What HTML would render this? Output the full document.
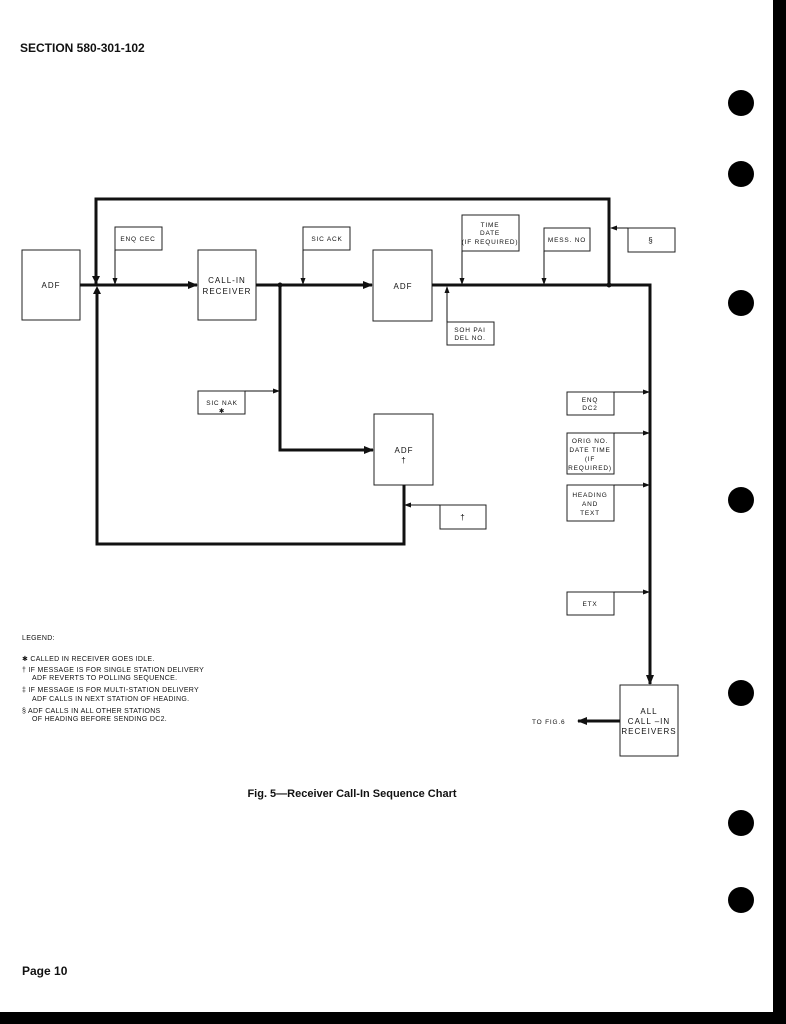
<!DOCTYPE html>
<html><head><meta charset="utf-8"><style>
html,body{margin:0;padding:0;background:#fff;}
svg{display:block;}
text{font-family:"Liberation Sans",sans-serif;fill:#111;}
.s{font-size:6.5px;letter-spacing:0.8px;}
.m{font-size:8px;letter-spacing:1px;}
.lg{font-size:7px;letter-spacing:0.3px;}
.b{font-weight:bold;}
</style></head><body>
<svg width="786" height="1024" viewBox="0 0 786 1024" xmlns="http://www.w3.org/2000/svg">
<defs>
<marker id="a" markerWidth="10" markerHeight="8" refX="9" refY="4" orient="auto" markerUnits="userSpaceOnUse"><path d="M0,0 L10,4 L0,8z" fill="#111"/></marker>
<marker id="t" markerWidth="7" markerHeight="5" refX="6" refY="2.5" orient="auto" markerUnits="userSpaceOnUse"><path d="M0,0 L7,2.5 L0,5z" fill="#111"/></marker>
</defs>
<rect x="773" y="0" width="13" height="1024" fill="#000"/>
<rect x="0" y="1012" width="786" height="12" fill="#000"/>
<g fill="#000">
<circle cx="741" cy="103" r="13"/><circle cx="741" cy="174" r="13"/><circle cx="741" cy="303" r="13"/>
<circle cx="741" cy="500" r="13"/><circle cx="741" cy="693" r="13"/><circle cx="741" cy="823" r="13"/><circle cx="741" cy="900" r="13"/>
</g>
<text x="20" y="52" class="b" style="font-size:12px">SECTION 580-301-102</text>
<text x="22" y="975" class="b" style="font-size:12px">Page 10</text>

<g fill="none" stroke="#222" stroke-width="1">
<rect x="22" y="250" width="58" height="70"/>
<rect x="115" y="227" width="47" height="23"/>
<rect x="198" y="250" width="58" height="70"/>
<rect x="303" y="227" width="47" height="23"/>
<rect x="373" y="250" width="59" height="71"/>
<rect x="198" y="391" width="47" height="23"/>
<rect x="374" y="414" width="59" height="71"/>
<rect x="462" y="215" width="57" height="36"/>
<rect x="544" y="228" width="46" height="23"/>
<rect x="628" y="228" width="47" height="24"/>
<rect x="447" y="322" width="47" height="23"/>
<rect x="567" y="392" width="47" height="23"/>
<rect x="567" y="433" width="47" height="41"/>
<rect x="567" y="485" width="47" height="36"/>
<rect x="567" y="592" width="47" height="23"/>
<rect x="440" y="505" width="46" height="24"/>
<rect x="620" y="685" width="58" height="71"/>
</g>

<g fill="none" stroke="#111" stroke-width="3">
<path d="M96,285 L96,199 L609,199 L609,285"/>
<path d="M404,485 L404,544 L97,544 L97,289"/>
<line x1="80" y1="285" x2="197" y2="285" marker-end="url(#a)"/>
<line x1="256" y1="285" x2="372" y2="285" marker-end="url(#a)"/>
<path d="M432,285 L650,285 L650,684" marker-end="url(#a)"/>
<path d="M280,285 L280,450 L373,450" marker-end="url(#a)"/>
<line x1="620" y1="721" x2="578" y2="721" marker-end="url(#a)"/>
</g>
<g fill="#111">
<path d="M92,276 L100,276 L96,284z"/>
<path d="M93,294 L101,294 L97,286z"/>
<circle cx="280" cy="285" r="2.5"/><circle cx="609" cy="285" r="2.5"/>
</g>
<g fill="none" stroke="#111" stroke-width="1">
<line x1="115" y1="250" x2="115" y2="284" marker-end="url(#t)"/>
<line x1="303" y1="250" x2="303" y2="284" marker-end="url(#t)"/>
<line x1="462" y1="251" x2="462" y2="284" marker-end="url(#t)"/>
<line x1="544" y1="251" x2="544" y2="284" marker-end="url(#t)"/>
<line x1="447" y1="322" x2="447" y2="287" marker-end="url(#t)"/>
<line x1="628" y1="228" x2="611" y2="228" marker-end="url(#t)"/>
<line x1="245" y1="391" x2="279" y2="391" marker-end="url(#t)"/>
<line x1="614" y1="392" x2="649" y2="392" marker-end="url(#t)"/>
<line x1="614" y1="433" x2="649" y2="433" marker-end="url(#t)"/>
<line x1="614" y1="485" x2="649" y2="485" marker-end="url(#t)"/>
<line x1="614" y1="592" x2="649" y2="592" marker-end="url(#t)"/>
<line x1="440" y1="505" x2="405" y2="505" marker-end="url(#t)"/>
</g>

<g text-anchor="middle">
<text x="51" y="288" class="m">ADF</text>
<text x="138" y="241" class="s">ENQ CEC</text>
<text x="227" y="283" class="m">CALL-IN</text>
<text x="227" y="294" class="m">RECEIVER</text>
<text x="327" y="241" class="s">SIC ACK</text>
<text x="403" y="289" class="m">ADF</text>
<text x="222" y="405" class="s">SIC NAK</text>
<text x="222" y="413" class="s">✱</text>
<text x="404" y="453" class="m">ADF</text>
<text x="404" y="463" class="m">†</text>
<text x="490" y="227" class="s">TIME</text>
<text x="490" y="235" class="s">DATE</text>
<text x="490" y="244" class="s">(IF REQUIRED)</text>
<text x="567" y="242" class="s">MESS. NO</text>
<text x="651" y="243" class="m">§</text>
<text x="470" y="332" class="s">SOH PAI</text>
<text x="470" y="340" class="s">DEL NO.</text>
<text x="590" y="402" class="s">ENQ</text>
<text x="590" y="410" class="s">DC2</text>
<text x="590" y="443" class="s">ORIG NO.</text>
<text x="590" y="452" class="s">DATE TIME</text>
<text x="590" y="461" class="s">(IF</text>
<text x="590" y="470" class="s">REQUIRED)</text>
<text x="590" y="497" class="s">HEADING</text>
<text x="590" y="506" class="s">AND</text>
<text x="590" y="515" class="s">TEXT</text>
<text x="590" y="606" class="s">ETX</text>
<text x="463" y="520" class="m">†</text>
<text x="649" y="714" class="m">ALL</text>
<text x="649" y="724" class="m">CALL –IN</text>
<text x="649" y="734" class="m">RECEIVERS</text>
</g>
<text x="532" y="724" class="s">TO FIG.6</text>

<g class="lg">
<text x="22" y="640" class="lg">LEGEND:</text>
<text x="22" y="661" class="lg">✱ CALLED IN RECEIVER GOES IDLE.</text>
<text x="22" y="672" class="lg">† IF MESSAGE IS FOR SINGLE STATION DELIVERY</text>
<text x="32" y="680" class="lg">ADF REVERTS TO POLLING SEQUENCE.</text>
<text x="22" y="692" class="lg">‡ IF MESSAGE IS FOR MULTI-STATION DELIVERY</text>
<text x="32" y="701" class="lg">ADF CALLS  IN NEXT STATION OF HEADING.</text>
<text x="22" y="713" class="lg">§ ADF CALLS  IN ALL OTHER STATIONS</text>
<text x="32" y="721" class="lg">OF HEADING BEFORE SENDING DC2.</text>
</g>
<text x="352" y="797" text-anchor="middle" class="b" style="font-size:11px">Fig. 5—Receiver Call-In Sequence Chart</text>
</svg>
</body></html>
